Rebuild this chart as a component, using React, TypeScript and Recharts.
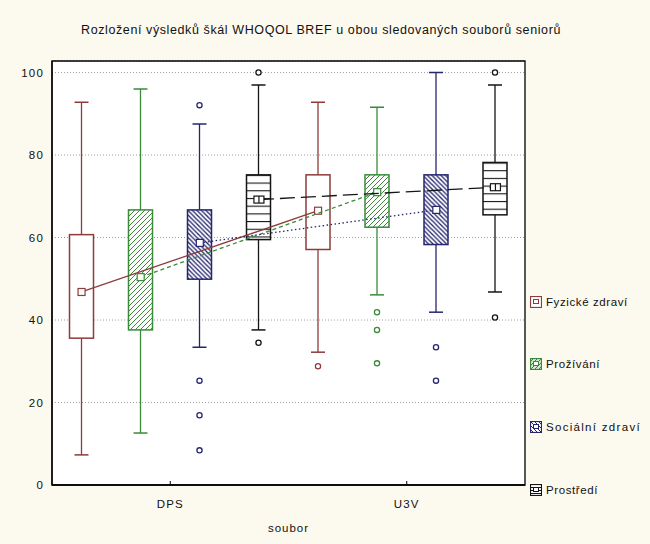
import React from 'react';
import { ComposedChart, Bar, Scatter, XAxis, YAxis, CartesianGrid, ReferenceArea } from 'recharts';

const groups = ['DPS', 'U3V'];
const scaleNames = ['Fyzické zdraví', 'Prožívání', 'Sociální zdraví', 'Prostředí'];

// one row per scale, values for [DPS, U3V]
const whiskerLow = [[7.3, 32.2], [12.6, 46.1], [33.4, 41.9], [37.6, 46.8]];
const boxLow = [[35.6, 57.1], [37.6, 62.5], [49.9, 58.3], [59.5, 65.5]];
const medians = [[46.8, 66.5], [50.4, 71.0], [58.7, 66.7], [69.2, 72.2]];
const boxHigh = [[60.7, 75.2], [66.7, 75.2], [66.7, 75.2], [75.2, 78.2]];
const whiskerHigh = [[92.8, 92.8], [96.0, 91.6], [87.5, 100], [97.0, 97.0]];
const outliers = [
  [[], [28.8]],
  [[], [41.9, 37.6, 29.5]],
  [[92.1, 25.3, 16.9, 8.4], [33.4, 25.3]],
  [[100, 34.5], [100, 40.6]],
];
const yTicks = [0, 20, 40, 60, 80, 100];
const slotTicks = [2, 6];

const COLORS = ['#8e3b3b', '#3a8a3a', '#26266e', '#151515'];
const DASHES = [undefined, '4 3', '1.5 2.5', '15 6'];
const FONT = '"Liberation Sans", Arial, sans-serif';
const BG = '#fcf9ee';
const Y_MAX = 102.8;

const chartData = groups.map((g, gi) => {
  const row: any = { group: g };
  scaleNames.forEach((_, si) => {
    row[`r${si}`] = [whiskerLow[si][gi], whiskerHigh[si][gi]];
  });
  return row;
});

function Pattern({ id, si, top }: { id: string; si: number; top: number }) {
  const c = COLORS[si];
  if (si === 1)
    return (
      <pattern id={id} patternUnits="userSpaceOnUse" width={5} height={5}>
        <rect width={5} height={5} fill="#fff" />
        <path d="M0,5 L5,0 M-1,1 L1,-1 M4,6 L6,4" stroke={c} strokeWidth={1} />
      </pattern>
    );
  if (si === 2)
    return (
      <pattern id={id} patternUnits="userSpaceOnUse" width={4.5} height={4.5}>
        <rect width={4.5} height={4.5} fill="#fff" />
        <path d="M0,0 L4.5,4.5 M-1,3.5 L1,5.5 M3.5,-1 L5.5,1" stroke={c} strokeWidth={1.3} />
      </pattern>
    );
  if (si === 3)
    return (
      <pattern id={id} patternUnits="userSpaceOnUse" x={0} y={top} width={30} height={7.7}>
        <rect width={30} height={7.7} fill="#fff" />
        <line x1={0} x2={30} y1={0.5} y2={0.5} stroke={c} strokeWidth={1.2} />
      </pattern>
    );
  return null;
}

function BoxShape(props: any) {
  const { x, y, width, height, payload, si } = props;
  const gi = groups.indexOf(payload.group);
  const lo = whiskerLow[si][gi];
  const hi = whiskerHigh[si][gi];
  const top = Math.min(y, y + height);
  const h = Math.abs(height);
  const py = (v: number) => top + (h * (hi - v)) / (hi - lo);
  const cx = x + width / 2;
  const c = COLORS[si];
  const bTop = py(boxHigh[si][gi]);
  const bBot = py(boxLow[si][gi]);
  const id = `pat-${si}-${gi}`;
  return (
    <g>
      <defs>
        <Pattern id={id} si={si} top={bTop} />
      </defs>
      <line x1={cx} x2={cx} y1={py(hi)} y2={bTop} stroke={c} strokeWidth={1.3} />
      <line x1={cx} x2={cx} y1={bBot} y2={py(lo)} stroke={c} strokeWidth={1.3} />
      <line x1={cx - 7} x2={cx + 7} y1={py(hi)} y2={py(hi)} stroke={c} strokeWidth={1.5} />
      <line x1={cx - 7} x2={cx + 7} y1={py(lo)} y2={py(lo)} stroke={c} strokeWidth={1.5} />
      <rect
        x={cx - 12}
        y={bTop}
        width={24}
        height={bBot - bTop}
        fill={si === 0 ? '#fff' : `url(#${id})`}
        stroke={c}
        strokeWidth={1.5}
      />
      {outliers[si][gi].map((o, k) => (
        <circle key={k} cx={cx} cy={py(o)} r={2.6} fill="#fff" stroke={c} strokeWidth={1.3} />
      ))}
    </g>
  );
}

function MedianMarker(props: any) {
  const { cx, cy, si } = props;
  const c = COLORS[si];
  if (si === 3)
    return (
      <g>
        <rect x={cx - 5} y={cy - 3.5} width={10} height={7} fill="#fff" stroke={c} strokeWidth={1.2} />
        <line x1={cx} x2={cx} y1={cy - 3.5} y2={cy + 3.5} stroke={c} strokeWidth={1.2} />
      </g>
    );
  return <rect x={cx - 3.5} y={cy - 3.5} width={7} height={7} fill="#fff" stroke={c} strokeWidth={1.2} />;
}

function BottomTick(props: any) {
  const { x, y, payload } = props;
  const axisY = y - 15;
  return (
    <g>
      <line x1={x} x2={x} y1={axisY} y2={axisY - 4} stroke="#000" />
      <text x={x} y={y} dy="0.71em" textAnchor="middle" fontSize={11.5} fontFamily={FONT} letterSpacing={1.2} fill="#111">
        {payload.value}
      </text>
    </g>
  );
}

function LegendIcon({ si }: { si: number }) {
  const c = COLORS[si];
  const id = `leg-${si}`;
  return (
    <svg width={12} height={12} style={{ display: 'block' }}>
      <defs>
        {si === 1 && (
          <pattern id={id} patternUnits="userSpaceOnUse" width={4} height={4}>
            <rect width={4} height={4} fill="#cfe8cf" />
            <path d="M0,4 L4,0" stroke={c} strokeWidth={1} />
          </pattern>
        )}
        {si === 2 && (
          <pattern id={id} patternUnits="userSpaceOnUse" width={4} height={4}>
            <rect width={4} height={4} fill="#fff" />
            <path d="M0,0 L4,4" stroke={c} strokeWidth={1} />
          </pattern>
        )}
        {si === 3 && (
          <pattern id={id} patternUnits="userSpaceOnUse" width={12} height={3}>
            <rect width={12} height={3} fill="#fff" />
            <line x1={0} x2={12} y1={0.5} y2={0.5} stroke={c} />
          </pattern>
        )}
      </defs>
      <rect x={0.5} y={0.5} width={11} height={11} fill={si === 0 ? '#fff' : `url(#${id})`} stroke={c} strokeWidth={1.2} />
      <rect x={3.5} y={3.5} width={5} height={4} fill="#fff" stroke={c} strokeWidth={1} />
    </svg>
  );
}

const legendRows = [302, 364, 427, 490];
const noLabel = () => '';

export default function App() {
  return (
    <div style={{ position: 'absolute', left: 0, top: 0, width: 650, height: 544, background: BG, fontFamily: FONT }}>
      <div
        style={{
          position: 'absolute',
          top: 23,
          left: 0,
          width: 642,
          textAlign: 'center',
          fontSize: 12.5,
          letterSpacing: 0.6,
          color: '#111',
        }}
      >
        Rozložení výsledků škál WHOQOL BREF u obou sledovaných souborů seniorů
      </div>
      <ComposedChart
        width={650}
        height={544}
        data={chartData}
        margin={{ top: 61, right: 125, bottom: 0, left: 0 }}
        barCategoryGap={0}
        barGap={0}
      >
        <CartesianGrid vertical={false} stroke="#a0a0a0" strokeDasharray="1 2" fill="#fff" yAxisId="left" xAxisId="cat" />
        <XAxis
          xAxisId="cat"
          dataKey="group"
          height={59}
          axisLine={{ stroke: '#000', strokeWidth: 1.3 }}
          tickLine={false}
          tickSize={0}
          tickMargin={15}
          tick={<BottomTick />}
          label={{ value: 'soubor', position: 'insideBottom', offset: 12, fontSize: 11.5, fill: '#111', fontFamily: FONT, letterSpacing: 1 }}
        />
        <XAxis
          xAxisId="slot"
          type="number"
          dataKey="slot"
          orientation="top"
          height={0}
          domain={[0, 8]}
          ticks={slotTicks}
          allowDataOverflow
          tickFormatter={noLabel}
          tickSize={-4}
          axisLine={{ stroke: '#000', strokeWidth: 1.3 }}
          tickLine={{ stroke: '#000', strokeWidth: 1.2 }}
        />
        <YAxis
          yAxisId="left"
          width={52}
          domain={[0, Y_MAX]}
          ticks={yTicks}
          allowDataOverflow
          axisLine={{ stroke: '#000', strokeWidth: 1.3 }}
          tickLine={false}
          tick={{ fontSize: 11.5, fill: '#111', fontFamily: FONT, letterSpacing: 1.2 }}
        />
        <YAxis
          yAxisId="right"
          orientation="right"
          width={0}
          domain={[0, Y_MAX]}
          ticks={yTicks}
          allowDataOverflow
          tickFormatter={noLabel}
          tickSize={-5}
          axisLine={{ stroke: '#000', strokeWidth: 1.3 }}
          tickLine={{ stroke: '#000', strokeWidth: 1.2 }}
        />
        <ReferenceArea
          xAxisId="slot"
          yAxisId="right"
          x1={0}
          x2={8}
          y1={0}
          y2={Y_MAX}
          fill="none"
          fillOpacity={0}
          stroke="#000"
          strokeWidth={1.3}
        />
        {scaleNames.map((name, si) => (
          <Bar
            key={name}
            name={name}
            dataKey={`r${si}`}
            xAxisId="cat"
            yAxisId="left"
            isAnimationActive={false}
            shape={(p: any) => <BoxShape {...p} si={si} />}
          />
        ))}
        {scaleNames.map((name, si) => (
          <Scatter
            key={`m-${name}`}
            name={name}
            xAxisId="slot"
            yAxisId="right"
            dataKey="value"
            data={groups.map((g, gi) => ({ slot: gi * 4 + si + 0.5, value: medians[si][gi] }))}
            line={{ stroke: COLORS[si], strokeWidth: 1.3, strokeDasharray: DASHES[si] }}
            shape={(p: any) => <MedianMarker {...p} si={si} />}
            isAnimationActive={false}
          />
        ))}
      </ComposedChart>
      {scaleNames.map((name, si) => (
        <div
          key={name}
          style={{
            position: 'absolute',
            left: 530,
            top: legendRows[si] - 7,
            height: 14,
            display: 'flex',
            alignItems: 'center',
            gap: 4,
            fontSize: 11.5,
            letterSpacing: si === 2 ? 1.3 : 0.6,
            color: '#111',
            whiteSpace: 'nowrap',
          }}
        >
          <LegendIcon si={si} />
          <span>{name}</span>
        </div>
      ))}
    </div>
  );
}
